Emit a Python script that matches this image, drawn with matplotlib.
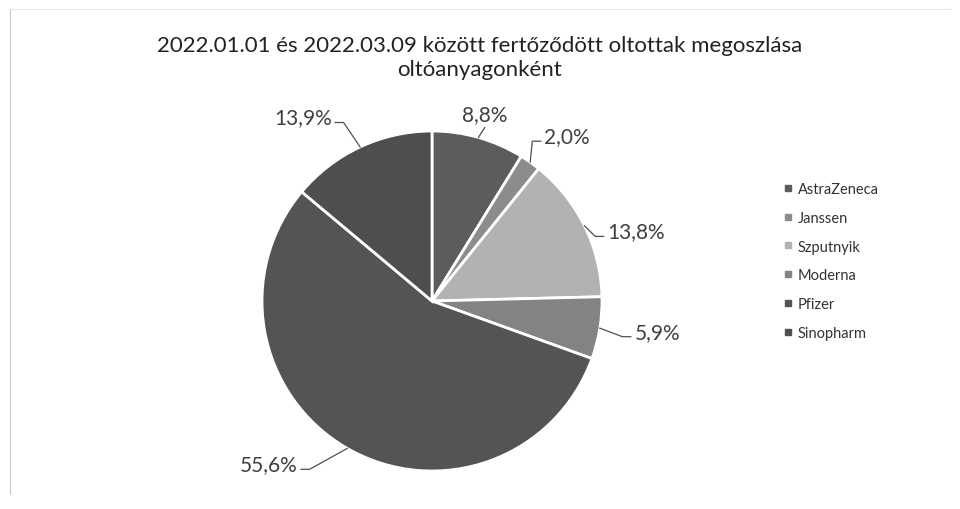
import matplotlib
matplotlib.use("Agg")
import matplotlib.pyplot as plt
import numpy as np
from matplotlib.lines import Line2D

categories = ["AstraZeneca", "Janssen", "Szputnyik", "Moderna", "Pfizer", "Sinopharm"]
values = [8.8, 2.0, 13.8, 5.9, 55.6, 13.9]
colors = ["#5c5c5c", "#8c8c8c", "#b2b2b2", "#838383", "#545454", "#4e4e4e"]
title = "2022.01.01 és 2022.03.09 között fertőződött oltottak megoszlása\noltóanyagonként"

# label text positions (in pie radius units, relative to the pie centre)
label_pos = [(0.31, 1.10), (0.66, 0.97), (1.03, 0.41), (1.19, -0.18), (-0.79, -0.96), (-0.59, 1.08)]
label_ha = ["center", "left", "left", "left", "right", "right"]

plt.rcParams['font.family'] = ['Lato', 'DejaVu Sans']
fig = plt.figure(figsize=(9.6, 5.1), dpi=100)
W, H = 960, 510
cx, cy, R = 432, 302, 170
ax = fig.add_axes([(cx - R) / W, (H - cy - R) / H, 2 * R / W, 2 * R / H])
wedges, _ = ax.pie(values, colors=colors, startangle=90, counterclock=False,
                   radius=1.0, wedgeprops=dict(edgecolor="white", linewidth=2))
ax.set_xlim(-1, 1)
ax.set_ylim(-1, 1)
ax.set_aspect("equal")
ax.axis("off")

for w, v, (tx, ty), ha in zip(wedges, values, label_pos, label_ha):
    mid = np.deg2rad((w.theta1 + w.theta2) / 2)
    ex, ey = np.cos(mid), np.sin(mid)
    ax.text(tx, ty, f"{v:.1f}".replace(".", ",") + "%", ha=ha, va="center",
            fontsize=15, color="#404040")
    # leader line: from wedge edge to label
    if ha == "center":
        ax.plot([ex, tx], [ey, ty - 0.08], color="#505050", lw=0.9, clip_on=False)
    else:
        sgn = 1 if ha == "left" else -1
        px = tx - sgn * 0.02
        py = ty - 0.03
        kx = px - sgn * 0.05
        ax.plot([ex, kx, px], [ey, py, py], color="#505050", lw=0.9, clip_on=False)

fig.text(0.5, 1 - 58 / H, title, ha="center", va="center", fontsize=16,
         color="#222222", linespacing=1.3)

handles = [Line2D([], [], marker="s", linestyle="none", markersize=5,
                  markerfacecolor=c, markeredgecolor=c) for c in colors]
fig.legend(handles, categories, loc="center left", bbox_to_anchor=(768 / W, 1 - 262 / H),
           frameon=False, fontsize=10.5, handletextpad=0.15, labelspacing=1.02,
           handlelength=1.0, labelcolor="#333333")

fig.add_artist(Line2D([10 / W, 10 / W], [1 - 10 / H, 1 - 495 / H], color="#c8c8c8", lw=0.8))
fig.add_artist(Line2D([10 / W, 950 / W], [1 - 10 / H, 1 - 10 / H], color="#e6e6e6", lw=0.8))

fig.savefig("out.png", dpi=100)
